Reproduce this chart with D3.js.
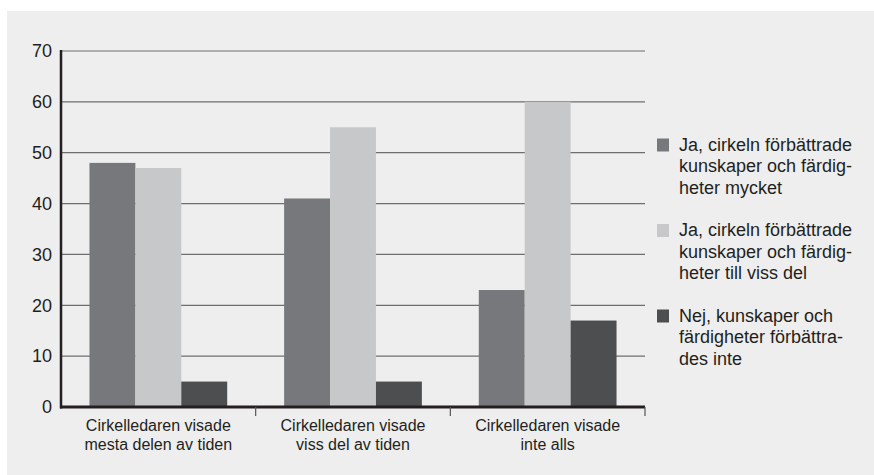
<!DOCTYPE html>
<html><head><meta charset="utf-8">
<script src="https://cdn.jsdelivr.net/npm/d3@7/dist/d3.min.js"></script>
<style>body{margin:0;background:#fff}svg{display:block}text{font-family:"Liberation Sans",Arial,sans-serif;fill:#231f20}</style>
</head><body><svg id="c" width="874" height="475"></svg>
<script>
const categories = [["Cirkelledaren visade","mesta delen av tiden"],["Cirkelledaren visade","viss del av tiden"],["Cirkelledaren visade","inte alls"]];
const seriesNames = [["Ja, cirkeln förbättrade","kunskaper och färdig-","heter mycket"],["Ja, cirkeln förbättrade","kunskaper och färdig-","heter till viss del"],["Nej, kunskaper och","färdigheter förbättra-","des inte"]];
const seriesA = [48, 41, 23];
const seriesB = [47, 55, 60];
const seriesC = [5, 5, 17];
const yTicks = [0,10,20,30,40,50,60,70];
const colors = ["#77787b","#c7c8ca","#4d4e50"];
const series = [seriesA, seriesB, seriesC];

const svg = d3.select("#c");
svg.append("rect").attr("x",7).attr("y",11).attr("width",867).attr("height",464).attr("fill","#eeeeee");

const L=61, R=645, T=51, B=407;
const y = d3.scaleLinear().domain([0,70]).range([B,T]);
const x0 = d3.scaleBand().domain(d3.range(categories.length)).range([L,R]).paddingInner(0).paddingOuter(0);
const x1 = d3.scaleBand().domain(d3.range(series.length)).range([0,x0.bandwidth()]).paddingOuter(0.62).paddingInner(0);

// gridlines
svg.append("g").selectAll("line").data(yTicks.filter(d=>d>0)).join("line")
  .attr("x1",L).attr("x2",R).attr("y1",d=>y(d)).attr("y2",d=>y(d))
  .attr("stroke","#6d6e70").attr("stroke-width",1.2);

// bars
const g = svg.append("g");
categories.forEach((c,i)=>{
  series.forEach((s,j)=>{
    g.append("rect").attr("x",x0(i)+x1(j)).attr("width",x1.bandwidth())
      .attr("y",y(s[i])).attr("height",B-y(s[i])).attr("fill",colors[j]);
  });
});

// y axis
const ya = d3.axisLeft(y).tickValues(yTicks).tickSize(0).tickPadding(9);
const yg = svg.append("g").attr("transform",`translate(${L},0)`).call(ya);
yg.select(".domain").remove();
yg.selectAll("text").style("font-size","18px").style("fill","#231f20").style("font-family","Liberation Sans, Arial, sans-serif");
svg.append("line").attr("x1",L).attr("x2",L).attr("y1",T-1).attr("y2",B+1.5).attr("stroke","#231f20").attr("stroke-width",2.5);

// x axis
svg.append("line").attr("x1",L-1).attr("x2",R).attr("y1",B).attr("y2",B).attr("stroke","#231f20").attr("stroke-width",3);
svg.append("g").selectAll("line").data(d3.range(1,categories.length+1)).join("line")
  .attr("x1",i=>x0.step()*i+L).attr("x2",i=>x0.step()*i+L).attr("y1",B).attr("y2",B+9)
  .attr("stroke","#555").attr("stroke-width",1.2);

categories.forEach((c,i)=>{
  const t = svg.append("text").attr("x",x0(i)+x0.bandwidth()/2).attr("y",B+24).attr("text-anchor","middle").style("font-size","16px");
  c.forEach((ln,k)=>t.append("tspan").attr("x",x0(i)+x0.bandwidth()/2).attr("dy",k?18.5:0).text(ln));
});

// legend
const legY = [150.5, 236, 321.5];
seriesNames.forEach((lines,j)=>{
  svg.append("rect").attr("x",657).attr("y",legY[j]-12).attr("width",12).attr("height",13).attr("fill",colors[j]);
  const t = svg.append("text").attr("x",679).attr("y",legY[j]).style("font-size","18px");
  lines.forEach((ln,k)=>t.append("tspan").attr("x",679).attr("dy",k?21.5:0).text(ln));
});
</script></body></html>
